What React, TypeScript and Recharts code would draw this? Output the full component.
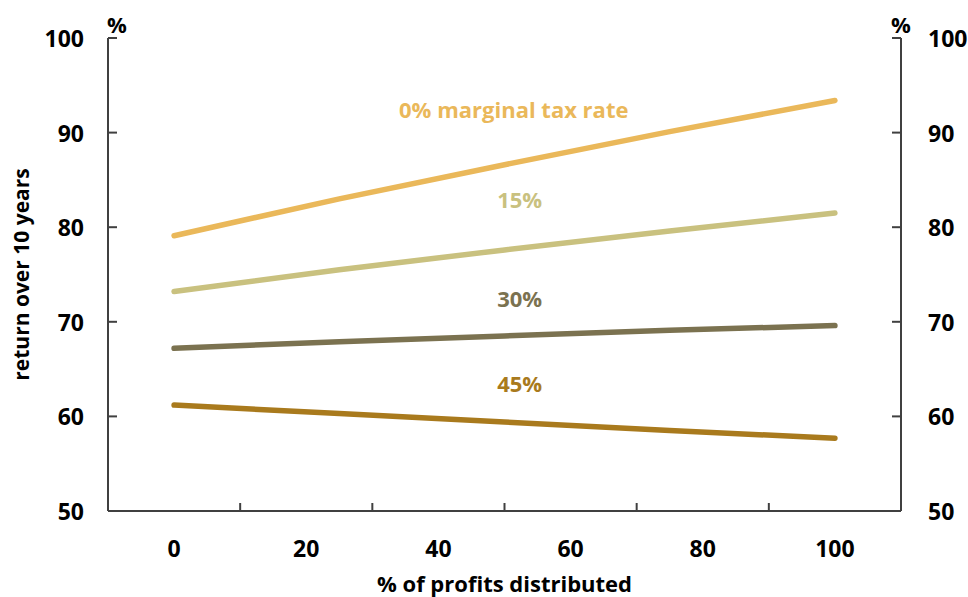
import React from 'react';
import { LineChart, Line, XAxis, YAxis, ReferenceDot } from 'recharts';

const distributed = [0, 25, 50, 75, 100];
const rate0 = [79.1, 83.0, 86.6, 90.1, 93.4];
const rate15 = [73.2, 75.5, 77.6, 79.6, 81.5];
const rate30 = [67.2, 67.9, 68.5, 69.1, 69.6];
const rate45 = [61.2, 60.3, 59.4, 58.5, 57.7];

const xTicks = [0, 10, 20, 30, 40, 50, 60, 70, 80, 90, 100];
const yTicks = [50, 60, 70, 80, 90, 100];

const seriesNames = ['0% marginal tax rate', '15%', '30%', '45%'];
const labelX = [51.4, 52.3, 52.3, 52.3];
const labelY = [92.5, 83.0, 72.5, 63.5];

const colors = ['#EAB85A', '#C9C17F', '#7B7250', '#A97A1D'];
const FONT = '"Open Sans", sans-serif';
const AXIS = '#404040';

const rows = distributed.map((d, i) => ({
  x: d,
  r0: rate0[i],
  r15: rate15[i],
  r30: rate30[i],
  r45: rate45[i],
}));

const XTick = (props: any) => {
  const { x, y, payload } = props;
  const v = payload.value;
  if (v % 20 === 0) {
    return (
      <text x={x} y={y + 37} textAnchor="middle" dominantBaseline="central"
        fontFamily={FONT} fontWeight={700} fontSize={23} fill="#000">{v}</text>
    );
  }
  return <line x1={x} x2={x} y1={y} y2={y - 8} stroke={AXIS} strokeWidth={2} />;
};

const LeftTick = (props: any) => {
  const { x, y, payload } = props;
  return (
    <g>
      <line x1={x + 24} x2={x + 33} y1={y} y2={y} stroke={AXIS} strokeWidth={2} />
      <text x={x} y={y} textAnchor="end" dominantBaseline="central"
        fontFamily={FONT} fontWeight={700} fontSize={23} fill="#000">{payload.value}</text>
    </g>
  );
};

const RightTick = (props: any) => {
  const { x, y, payload } = props;
  return (
    <g>
      <line x1={x - 27} x2={x - 36} y1={y} y2={y} stroke={AXIS} strokeWidth={2} />
      <text x={x} y={y} textAnchor="start" dominantBaseline="central"
        fontFamily={FONT} fontWeight={700} fontSize={23} fill="#000">{payload.value}</text>
    </g>
  );
};

const LeftTitle = (props: any) => {
  const vb = props.viewBox || { x: 0, y: 38, width: 108, height: 473 };
  const cx = vb.x + 21;
  const cy = vb.y + vb.height / 2;
  return (
    <g>
      <text x={cx} y={cy} transform={`rotate(-90, ${cx}, ${cy})`} textAnchor="middle"
        dominantBaseline="central" fontFamily={FONT} fontWeight={700} fontSize={21} fill="#000">
        return over 10 years
      </text>
      <text x={vb.x + vb.width - 1} y={vb.y - 14} textAnchor="start" dominantBaseline="central"
        fontFamily={FONT} fontWeight={700} fontSize={22} fill="#000">%</text>
    </g>
  );
};

const RightTitle = (props: any) => {
  const vb = props.viewBox || { x: 901, y: 38, width: 67, height: 473 };
  return (
    <text x={vb.x} y={vb.y - 14} textAnchor="middle" dominantBaseline="central"
      fontFamily={FONT} fontWeight={700} fontSize={22} fill="#000">%</text>
  );
};

const XTitle = (props: any) => {
  const vb = props.viewBox || { x: 108, y: 511, width: 793, height: 86 };
  return (
    <text x={vb.x + vb.width / 2} y={vb.y + 72} textAnchor="middle" dominantBaseline="central"
      fontFamily={FONT} fontWeight={700} fontSize={22} fill="#000">% of profits distributed</text>
  );
};

const AnnLabel = (props: any) => {
  const vb = props.viewBox;
  if (!vb) return null;
  const cx = vb.x + (vb.width || 0) / 2;
  const cy = vb.y + (vb.height || 0) / 2;
  return (
    <text x={cx} y={cy} textAnchor="middle" dominantBaseline="central"
      fontFamily={FONT} fontWeight={700} fontSize={22} fill={props.color}>{props.text}</text>
  );
};

const keys = ['r0', 'r15', 'r30', 'r45'];

export default function App() {
  return (
    <div style={{ position: 'absolute', left: 0, top: 0, background: '#fff' }}>
      <LineChart width={968} height={597} data={rows} margin={{ top: 38, right: 0, bottom: 0, left: 0 }}>
        <XAxis dataKey="x" type="number" domain={[-10, 110]} ticks={xTicks} interval={0}
          height={86} tickLine={false} tickSize={0} tickMargin={0}
          axisLine={{ stroke: AXIS, strokeWidth: 2 }} tick={<XTick />} label={<XTitle />} />
        <YAxis yAxisId="left" type="number" domain={[50, 100]} ticks={yTicks} interval={0} width={108}
          tickLine={false} tickSize={0} tickMargin={24} allowDataOverflow
          axisLine={{ stroke: AXIS, strokeWidth: 2 }} tick={<LeftTick />} label={<LeftTitle />} />
        <YAxis yAxisId="right" type="number" orientation="right" domain={[50, 100]} ticks={yTicks} interval={0} width={67}
          tickLine={false} tickSize={0} tickMargin={27} allowDataOverflow
          axisLine={{ stroke: AXIS, strokeWidth: 2 }} tick={<RightTick />} label={<RightTitle />} />
        <Line yAxisId="right" dataKey="r30" type="linear" stroke="none" strokeWidth={0} dot={false}
          activeDot={false} legendType="none" isAnimationActive={false} />
        {keys.map((k, i) => (
          <Line key={k} yAxisId="left" dataKey={k} type="linear" stroke={colors[i]} strokeWidth={5.5}
            strokeLinecap="round" strokeLinejoin="round" dot={false} activeDot={false}
            isAnimationActive={false} />
        ))}
        {seriesNames.map((n, i) => (
          <ReferenceDot key={n} yAxisId="left" x={labelX[i]} y={labelY[i]} r={1}
            fill="none" stroke="none" label={<AnnLabel text={n} color={colors[i]} />} />
        ))}
      </LineChart>
    </div>
  );
}
